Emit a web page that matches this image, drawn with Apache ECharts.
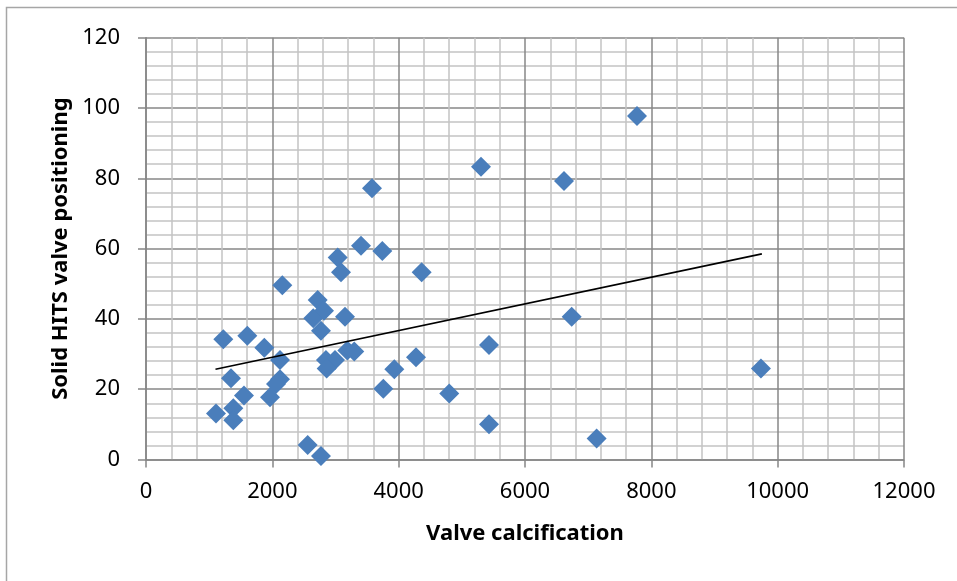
<!DOCTYPE html>
<html>
<head>
<meta charset="utf-8">
<script src="https://cdn.jsdelivr.net/npm/echarts@6/dist/echarts.min.js"></script>
<style>html,body{margin:0;padding:0;background:#fff}#c{width:957px;height:581px}</style>
</head>
<body>
<div id="c"></div>
<script>
const calcification = [1108,1224,1604,1873,2121,1346,1551,1382,1382,1963,2121,2058,2158,2560,2770,2718,2648,2818,2770,3150,2849,2992,2860,3187,3297,3757,3931,4274,4801,4364,3035,3087,3404,3741,3578,5303,6617,6739,5430,5430,7134,9735,7773];
const positioning = [13.1,34.2,35.2,31.8,28.3,23.1,18.2,14.6,11.2,17.7,22.8,21.5,49.6,4.1,1.0,45.4,40.2,42.3,36.6,40.6,28.3,28.3,25.9,31.0,30.7,20.1,25.7,29.1,18.8,53.3,57.5,53.3,60.8,59.3,77.2,83.3,79.2,40.6,32.6,10.0,6.0,25.9,97.7];
const trendX = [1100, 9750];
const trendY = [25.7, 58.5];
const xTitle = 'Valve calcification';
const yTitle = 'Solid HITS valve positioning';

const chart = echarts.init(document.getElementById('c'), null, {renderer:'canvas'});
const font = '"Noto Sans", "Open Sans", sans-serif';
chart.setOption({
  animation:false,
  backgroundColor:'#fff',
  graphic:[{type:'rect',shape:{x:6.5,y:7.5,width:1000,height:700},style:{fill:'none',stroke:'#a6a6a6',lineWidth:1.5},silent:true}],
  grid:{left:146,top:37.7,right:53,bottom:121.5,containLabel:false},
  xAxis:{
    type:'value',min:0,max:12000,interval:2000,
    name:xTitle,nameLocation:'middle',nameGap:63,
    nameTextStyle:{fontFamily:font,fontWeight:'bold',fontSize:22,color:'#000'},
    axisLine:{show:true,onZero:false,lineStyle:{color:'#868686',width:1.5}},
    axisTick:{show:true,length:8,inside:false,lineStyle:{color:'#868686',width:1.5}},
    axisLabel:{fontFamily:font,fontSize:22,color:'#000',margin:21,formatter:v=>String(v)},
    splitLine:{show:true,lineStyle:{color:'#878787',width:1.5}},
    minorTick:{show:false,splitNumber:5},
    minorSplitLine:{show:true,lineStyle:{color:'#c4c4c4',width:1.5}}
  },
  yAxis:{
    type:'value',min:0,max:120,interval:20,
    name:yTitle,nameLocation:'middle',nameGap:74,nameRotate:90,
    nameTextStyle:{fontFamily:font,fontWeight:'bold',fontSize:22,color:'#000'},
    axisLine:{show:true,onZero:false,lineStyle:{color:'#868686',width:1.5}},
    axisTick:{show:true,length:8,inside:false,lineStyle:{color:'#868686',width:1.5}},
    axisLabel:{fontFamily:font,fontSize:22,color:'#000',margin:26,formatter:v=>String(v)},
    splitLine:{show:true,lineStyle:{color:'#878787',width:1.5}},
    minorTick:{show:false,splitNumber:5},
    minorSplitLine:{show:true,lineStyle:{color:'#c4c4c4',width:1.5}}
  },
  series:[
    {type:'scatter',symbol:'diamond',symbolSize:20,
     itemStyle:{color:'#4a7ebb',opacity:1},
     data:calcification.map((x,i)=>[x,positioning[i]]),z:3},
    {type:'line',symbol:'none',lineStyle:{color:'#000',width:1.6},
     data:trendX.map((x,i)=>[x,trendY[i]]),z:4}
  ]
});
</script>
</body>
</html>
